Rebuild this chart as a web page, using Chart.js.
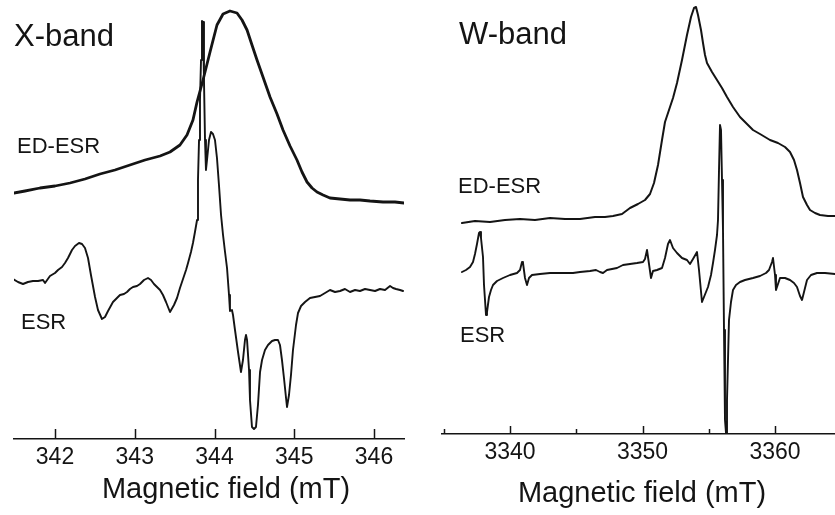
<!DOCTYPE html>
<html>
<head>
<meta charset="utf-8">
<script src="https://cdn.jsdelivr.net/npm/chart.js@4.4.1/dist/chart.umd.min.js"></script>
<style>
  html, body { margin: 0; padding: 0; background: #fff; }
  #wrap { position: relative; width: 835px; height: 515px; overflow: hidden; background: #fff; }
  #wrap canvas { position: absolute; top: 0; }
</style>
</head>
<body>
<div id="wrap">
  <canvas id="xband" width="415" height="515" style="left:0"></canvas>
  <canvas id="wband" width="420" height="515" style="left:415px"></canvas>
</div>
<script>
// X-band, magnetic field in mT, intensity in arbitrary units
const xEdField = [341.486, 341.624, 341.812, 342.000, 342.188, 342.376, 342.564, 342.752, 342.940, 343.129,
  343.317, 343.442, 343.567, 343.655, 343.730, 343.781, 343.856, 343.944, 344.031, 344.107,
  344.194, 344.282, 344.345, 344.408, 344.470, 344.533, 344.608, 344.696, 344.784, 344.859,
  344.947, 345.034, 345.097, 345.160, 345.223, 345.285, 345.361, 345.448, 345.574, 345.699,
  345.824, 345.950, 346.113, 346.263, 346.376];
const xEd = [246, 248, 251, 253, 256, 260, 265, 269, 274, 279,
  283, 287, 294, 304, 319, 337, 359, 387, 414, 425,
  428, 426, 419, 409, 394, 379, 362, 342, 325, 309,
  293, 279, 267, 257, 251, 247, 244, 241, 240, 239,
  239, 238, 237, 237, 236];

const xEsrField = [341.473, 341.536, 341.599, 341.661, 341.724, 341.787, 341.850, 341.875, 341.937, 342.000,
  342.038, 342.088, 342.125, 342.163, 342.213, 342.251, 342.301, 342.339, 342.376, 342.414,
  342.451, 342.502, 342.539, 342.589, 342.627, 342.665, 342.727, 342.777, 342.815, 342.865,
  342.903, 342.940, 342.978, 343.028, 343.066, 343.116, 343.166, 343.204, 343.241, 343.279,
  343.317, 343.354, 343.392, 343.442, 343.492, 343.530, 343.567, 343.605, 343.643, 343.668,
  343.705, 343.730, 343.755, 343.781, 343.793, 343.806, 343.818, 343.831, 343.843, 343.856,
  343.868, 343.881, 343.893, 343.906, 343.931, 343.956, 343.981, 344.006, 344.031, 344.056,
  344.082, 344.107, 344.132, 344.157, 344.182, 344.194, 344.219, 344.232, 344.257, 344.295,
  344.332, 344.357, 344.382, 344.395, 344.408, 344.433, 344.445, 344.470, 344.495, 344.520,
  344.545, 344.571, 344.596, 344.633, 344.671, 344.721, 344.759, 344.796, 344.821, 344.846,
  344.871, 344.897, 344.909, 344.934, 344.959, 344.984, 345.022, 345.047, 345.085, 345.135,
  345.197, 345.260, 345.323, 345.386, 345.448, 345.511, 345.574, 345.636, 345.699, 345.762,
  345.824, 345.887, 345.950, 346.013, 346.075, 346.138, 346.201, 346.238, 346.276, 346.326,
  346.364];
const xEsr = [160, 157, 155, 157, 158, 158, 159, 156, 163, 166,
  169, 172, 176, 181, 189, 193, 196, 195, 191, 181,
  164, 142, 129, 120, 122, 128, 137, 141, 144, 145,
  147, 150, 152, 153, 155, 159, 161, 159, 155, 152,
  149, 144, 137, 127, 134, 141, 151, 160, 169, 176,
  187, 196, 207, 219, 259, 299, 339, 379, 418, 417,
  359, 299, 269, 279, 299, 307, 305, 299, 281, 254,
  224, 204, 187, 171, 144, 128, 129, 124, 109, 87,
  67, 79, 99, 104, 99, 69, 39, 12, 10, 12,
  34, 67, 79, 89, 94, 98, 99, 99, 94, 79,
  61, 41, 32, 44, 64, 89, 114, 126, 133, 137,
  141, 142, 143, 146, 149, 147, 148, 150, 147, 149,
  148, 150, 149, 148, 150, 149, 153, 151, 150, 149,
  148];
const xTicks = [342, 343, 344, 345, 346];

// W-band
const wEdField = [3336.377, 3337.358, 3338.491, 3339.623, 3340.755, 3341.887, 3343.019, 3344.151, 3345.283, 3346.415,
  3347.170, 3347.774, 3348.453, 3349.057, 3349.660, 3350.189, 3350.566, 3350.868, 3351.170, 3351.472,
  3351.698, 3352.075, 3352.302, 3352.604, 3352.981, 3353.358, 3353.660, 3353.887, 3354.038, 3354.189,
  3354.415, 3354.566, 3354.717, 3354.868, 3355.245, 3355.623, 3356.000, 3356.377, 3356.830, 3357.358,
  3357.887, 3358.340, 3358.868, 3359.623, 3360.226, 3360.755, 3361.132, 3361.434, 3361.660, 3361.887,
  3362.113, 3362.415, 3362.642, 3363.019, 3363.396, 3364.000, 3364.528];
const wEd = [211, 213, 212, 214, 215, 214, 216, 215, 215, 217,
  217, 218, 220, 226, 230, 234, 240, 251, 269, 294,
  312, 327, 336, 351, 374, 399, 417, 426, 427, 419,
  404, 391, 379, 371, 362, 354, 346, 337, 327, 317,
  310, 304, 300, 294, 291, 287, 282, 274, 264, 251,
  237, 229, 224, 221, 219, 218, 218];

const wEsrField = [3336.377, 3336.679, 3336.981, 3337.208, 3337.358, 3337.509, 3337.660, 3337.736, 3337.811, 3337.962,
  3338.038, 3338.189, 3338.264, 3338.415, 3338.566, 3338.717, 3339.019, 3339.472, 3340.000, 3340.528,
  3340.755, 3340.906, 3340.981, 3341.132, 3341.283, 3341.434, 3341.660, 3342.264, 3343.019, 3343.774,
  3344.755, 3345.283, 3346.038, 3346.490, 3346.792, 3347.019, 3347.321, 3347.698, 3348.075, 3348.528,
  3349.057, 3349.585, 3350.038, 3350.189, 3350.340, 3350.491, 3350.641, 3350.792, 3351.094, 3351.472,
  3351.698, 3351.924, 3352.075, 3352.302, 3352.604, 3352.981, 3353.358, 3353.585, 3353.811, 3354.113,
  3354.264, 3354.490, 3354.641, 3354.943, 3355.170, 3355.320, 3355.471, 3355.623, 3355.698, 3355.774,
  3355.849, 3355.925, 3356.000, 3356.075, 3356.151, 3356.226, 3356.302, 3356.377, 3356.528, 3356.679,
  3356.830, 3357.057, 3357.358, 3357.736, 3358.340, 3358.868, 3359.321, 3359.547, 3359.774, 3359.849,
  3360.000, 3360.075, 3360.226, 3360.377, 3360.755, 3361.132, 3361.434, 3361.660, 3361.887, 3362.038,
  3362.189, 3362.415, 3362.717, 3363.170, 3363.774, 3364.528];
const wEsr = [162, 164, 167, 172, 180, 190, 201, 202, 196, 177,
  149, 119, 122, 137, 144, 149, 153, 156, 159, 161,
  164, 172, 171, 156, 149, 156, 159, 160, 161, 161,
  161, 162, 163, 164, 162, 161, 164, 165, 166, 169,
  170, 171, 172, 175, 184, 170, 156, 163, 164, 166,
  176, 190, 194, 186, 181, 176, 174, 170, 175, 182,
  164, 132, 137, 147, 159, 171, 184, 199, 214, 264,
  309, 304, 254, 204, 104, 14, 1, 34, 114, 132,
  144, 149, 152, 154, 156, 158, 161, 164, 172, 176,
  159, 144, 150, 156, 156, 154, 151, 147, 138, 134,
  142, 154, 159, 161, 161, 160];
const wTicks = [3335, 3340, 3345, 3350, 3355, 3360];

const INK = '#141414';
const FONT = '"Liberation Sans", Arial, sans-serif';

const toXY = (xs, ys) => xs.map((x, i) => ({ x: x, y: ys[i] }));

// ticks point up into the plot, like the original figure
const innerTicks = {
  id: 'innerTicks',
  afterDraw(chart, args, opts) {
    const s = chart.scales.x;
    const ctx = chart.ctx;
    ctx.save();
    ctx.strokeStyle = INK;
    ctx.lineWidth = 1.5;
    s.ticks.forEach(t => {
      const px = Math.round(s.getPixelForValue(t.value)) + 0.5;
      const len = t.value % opts.labelEvery === 0 ? opts.major : opts.minor;
      ctx.beginPath();
      ctx.moveTo(px, s.top);
      ctx.lineTo(px, s.top - len);
      ctx.stroke();
    });
    ctx.restore();
  }
};

const panelText = {
  id: 'panelText',
  afterDraw(chart, args, opts) {
    const ctx = chart.ctx;
    ctx.save();
    ctx.fillStyle = INK;
    ctx.textBaseline = 'alphabetic';
    opts.items.forEach(it => {
      ctx.font = it.size + 'px ' + FONT;
      ctx.textAlign = it.align || 'left';
      ctx.fillText(it.text, it.x, it.y);
    });
    ctx.restore();
  }
};

function makePanel(id, p) {
  return new Chart(document.getElementById(id), {
    type: 'line',
    data: {
      datasets: [
        { label: 'ED-ESR', data: toXY(p.edField, p.ed), borderWidth: p.edWidth },
        { label: 'ESR', data: toXY(p.esrField, p.esr), borderWidth: 1.9 }
      ]
    },
    options: {
      responsive: false,
      animation: false,
      layout: { padding: p.padding },
      elements: {
        point: { radius: 0 },
        line: { borderColor: INK, tension: 0, borderJoinStyle: 'round', borderCapStyle: 'round' }
      },
      plugins: {
        legend: { display: false },
        tooltip: { enabled: false },
        innerTicks: { labelEvery: p.labelEvery, major: p.majorLen, minor: p.minorLen },
        panelText: { items: p.texts }
      },
      scales: {
        x: {
          type: 'linear',
          min: p.min,
          max: p.max,
          afterBuildTicks: s => { s.ticks = p.ticks.map(v => ({ value: v })); },
          afterFit: s => { s.height = p.axisHeight; },
          grid: { display: false, drawTicks: false },
          border: { display: true, color: INK, width: 1.5 },
          ticks: {
            autoSkip: false,
            maxRotation: 0,
            padding: 5,
            color: INK,
            font: { family: FONT, size: 23 },
            callback: v => (v % p.labelEvery === 0 ? String(v) : '')
          }
        },
        y: { display: false, min: 0, max: p.yMax }
      }
    },
    plugins: [innerTicks, panelText]
  });
}

makePanel('xband', {
  edField: xEdField, ed: xEd, esrField: xEsrField, esr: xEsr, edWidth: 2.8,
  min: 341.486, max: 346.376, ticks: xTicks, labelEvery: 1, majorLen: 10, minorLen: 5,
  padding: { left: 14, right: 11, top: 0, bottom: 0 }, axisHeight: 76, yMax: 439,
  texts: [
    { text: 'X-band', x: 14, y: 46, size: 31 },
    { text: 'ED-ESR', x: 17, y: 153, size: 22 },
    { text: 'ESR', x: 21, y: 329, size: 22 },
    { text: 'Magnetic field (mT)', x: 226, y: 498, size: 29, align: 'center' }
  ]
});

makePanel('wband', {
  edField: wEdField, ed: wEd, esrField: wEsrField, esr: wEsr, edWidth: 2.0,
  min: 3334.868, max: 3364.528, ticks: wTicks, labelEvery: 10, majorLen: 8, minorLen: 5,
  padding: { left: 27, right: 0, top: 0, bottom: 0 }, axisHeight: 81, yMax: 434,
  texts: [
    { text: 'W-band', x: 44, y: 44, size: 31 },
    { text: 'ED-ESR', x: 43, y: 193, size: 22 },
    { text: 'ESR', x: 45, y: 342, size: 22 },
    { text: 'Magnetic field (mT)', x: 227, y: 502, size: 29, align: 'center' }
  ]
});
</script>
</body>
</html>
